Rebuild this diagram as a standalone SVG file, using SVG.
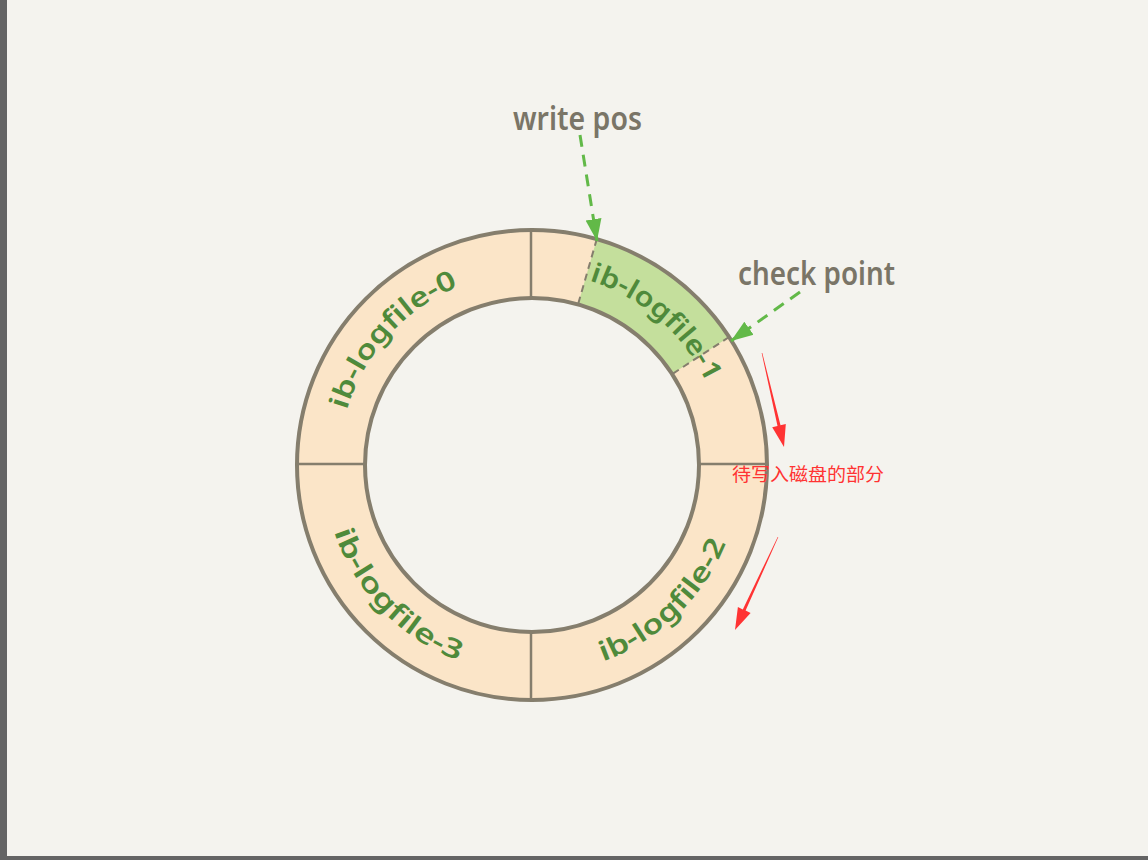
<svg xmlns="http://www.w3.org/2000/svg" width="1148" height="860" viewBox="0 0 1148 860">
<defs>
<style>
.bg{fill:#f4f3ee}
.frame{fill:#646464}
.ring{fill:#fbe5c8}
.hole{fill:#f4f3ee}
.edge{fill:none;stroke:#857e6d;stroke-width:4}
.div{stroke:#857e6d;stroke-width:2.5}
.dashdiv{stroke:#857e6d;stroke-width:2;stroke-dasharray:7 5}
.green{fill:#c4df9c}
.lbl{font-family:"Noto Sans","DejaVu Sans",sans-serif;font-weight:600;fill:#7a7567;font-size:32px}
.seg{font-family:"Noto Sans","DejaVu Sans",sans-serif;font-weight:600;fill:#4f8a3b;font-size:27px}
.gline{fill:none;stroke:#62b948;stroke-width:3;stroke-dasharray:12 8}
.red{fill:#ff3333}
.note{font-family:"Noto Sans CJK SC",sans-serif;fill:#ff3333;font-size:18px}
</style>
<marker id="gArrow" markerUnits="userSpaceOnUse" markerWidth="24" markerHeight="20" viewBox="0 0 24 20" refX="22" refY="10" orient="auto">
<path d="M0,2 L22,10 L0,18 Z" fill="#62b948"/>
</marker>
<path id="arc0" d="M348.4,524.6 A193,193 0 0 1 572.1,276.2" fill="none"/>
<path id="arc1" d="M469.2,282.5 A193,193 0 0 1 721.5,501.8" fill="none"/>
<path id="arc2" d="M474.4,665.9 A209,209 0 0 0 734.8,414.4" fill="none"/>
<path id="arc3" d="M331.1,407.4 A209,209 0 0 0 582.6,667.8" fill="none"/>
</defs>
<rect class="bg" x="0" y="0" width="1148" height="860"/>
<rect class="frame" x="0" y="0" width="7" height="860"/>
<rect class="frame" x="7" y="856" width="1141" height="4"/>

<g id="ring">
<circle class="ring" cx="532" cy="465" r="235"/>
<path id="seg-green" class="green" d="M596.8,239.1 A235,235 0 0 1 729.1,337.0 L672.1,374.1 A167,167 0 0 0 578.0,304.5 Z"/>
<circle class="hole" cx="532" cy="465" r="167"/>
<line class="div" x1="531" y1="230" x2="531" y2="298"/>
<line class="div" x1="531" y1="632" x2="531" y2="700"/>
<line class="div" x1="297" y1="464" x2="365" y2="464"/>
<line class="div" x1="699" y1="464" x2="767" y2="464"/>
<line class="dashdiv" x1="596.8" y1="239.1" x2="578.0" y2="304.5"/>
<line class="dashdiv" x1="729.1" y1="337.0" x2="672.1" y2="374.1"/>
<circle class="edge" cx="532" cy="465" r="235"/>
<circle class="edge" cx="532" cy="465" r="167"/>
</g>

<g id="node-logfile-0"><text class="seg" text-anchor="middle"><textPath href="#arc0" startOffset="50%" textLength="172" lengthAdjust="spacingAndGlyphs">ib-logfile-0</textPath></text></g>
<g id="node-logfile-1"><text class="seg" text-anchor="middle"><textPath href="#arc1" startOffset="50%" textLength="160" lengthAdjust="spacingAndGlyphs">ib-logfile-1</textPath></text></g>
<g id="node-logfile-2"><text class="seg" text-anchor="middle"><textPath href="#arc2" startOffset="50%" textLength="176" lengthAdjust="spacingAndGlyphs">ib-logfile-2</textPath></text></g>
<g id="node-logfile-3"><text class="seg" text-anchor="middle"><textPath href="#arc3" startOffset="50%" textLength="185" lengthAdjust="spacingAndGlyphs">ib-logfile-3</textPath></text></g>

<g id="node-write-pos"><text class="lbl" x="513" y="130" textLength="129" lengthAdjust="spacingAndGlyphs">write pos</text></g>
<g id="node-check-point"><text class="lbl" x="738" y="285" textLength="157" lengthAdjust="spacingAndGlyphs">check point</text></g>
<g id="node-note"><text class="note" x="732" y="481" textLength="152" lengthAdjust="spacingAndGlyphs">待写入磁盘的部分</text></g>

<g id="connectors">
<line class="gline" x1="580" y1="135" x2="597" y2="241" marker-end="url(#gArrow)"/>
<line class="gline" x1="800" y1="292" x2="731" y2="341" marker-end="url(#gArrow)"/>
<polygon class="red" points="762.3,352.9 780.5,425.3 785.8,424.0 784,447 772.2,427.2 777.5,425.9 761.7,353.1"/>
<polygon class="red" points="778.3,537.1 745.6,610.6 750.6,612.9 735,630 737.9,607.1 742.8,609.4 777.7,536.9"/>
</g>
</svg>
